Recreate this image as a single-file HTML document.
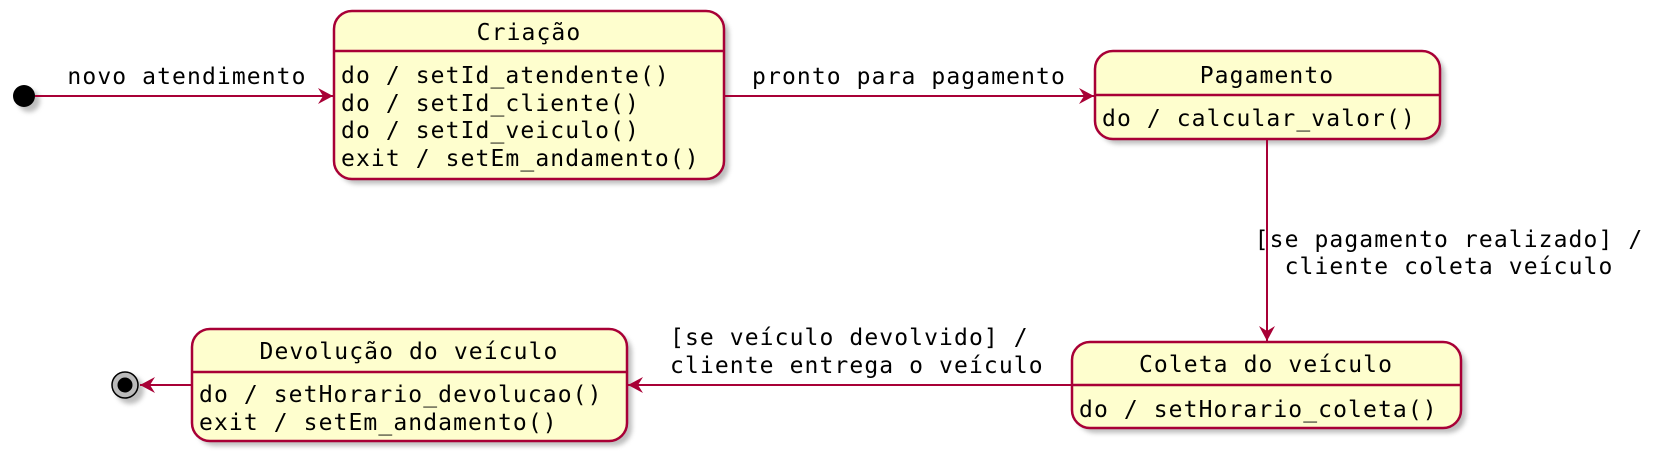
<!DOCTYPE html>
<html><head><meta charset="utf-8"><style>
html,body{margin:0;padding:0;background:#fff;}
svg text{font-family:"DejaVu Sans Mono","Liberation Mono",monospace;font-size:23px;fill:#000;letter-spacing:1.1px;}
</style></head><body>
<svg width="1675" height="469" viewBox="0 0 1675 469" xmlns="http://www.w3.org/2000/svg">
<defs>
<filter id="sh" x="-10%" y="-10%" width="130%" height="140%"><feGaussianBlur stdDeviation="2.5"/></filter>
<marker id="ar" markerWidth="18" markerHeight="16" refX="15" refY="8" orient="auto" markerUnits="userSpaceOnUse">
<path d="M0,0 L15,8 L0,16 L5,8 Z" fill="#A80036"/></marker>
</defs>
<g fill="#888" opacity="0.55" filter="url(#sh)">
<circle cx="29" cy="101" r="11"/>
<rect x="339" y="16" width="390" height="168" rx="18"/>
<rect x="1100" y="56" width="345" height="88" rx="18"/>
<rect x="1077" y="347" width="389" height="86" rx="18"/>
<rect x="197" y="334" width="435" height="112" rx="18"/>
<circle cx="130" cy="390" r="14"/>
</g>
<circle cx="24" cy="96" r="11" fill="#000"/>
<g fill="#FEFECE" stroke="#A80036" stroke-width="2.5">
<rect x="334" y="11" width="390" height="168" rx="18"/>
<rect x="1095" y="51" width="345" height="88" rx="18"/>
<rect x="1072" y="342" width="389" height="86" rx="18"/>
<rect x="192" y="329" width="435" height="112" rx="18"/>
</g>
<g stroke="#A80036" stroke-width="2" fill="none">
<line x1="334" y1="51" x2="724" y2="51" stroke-width="2.5"/>
<line x1="1095" y1="95" x2="1440" y2="95" stroke-width="2.5"/>
<line x1="1072" y1="385" x2="1461" y2="385" stroke-width="2.5"/>
<line x1="192" y1="372" x2="627" y2="372" stroke-width="2.5"/>
<line x1="35" y1="96" x2="333" y2="96" marker-end="url(#ar)"/>
<line x1="724" y1="96" x2="1094" y2="96" marker-end="url(#ar)"/>
<line x1="1267" y1="139" x2="1267" y2="341" marker-end="url(#ar)"/>
<line x1="1072" y1="385" x2="628" y2="385" marker-end="url(#ar)"/>
<line x1="192" y1="385" x2="140" y2="385" marker-end="url(#ar)"/>
</g>
<circle cx="125" cy="385" r="13" fill="#bbb" stroke="#000" stroke-width="1.5"/>
<circle cx="125" cy="385" r="7.5" fill="#000"/>
<g text-anchor="middle">
<text x="529" y="40">Criação</text>
<text x="1267" y="83">Pagamento</text>
<text x="1266" y="372">Coleta do veículo</text>
<text x="409" y="359">Devolução do veículo</text>
<text x="187" y="84">novo atendimento</text>
<text x="909" y="84">pronto para pagamento</text>
<text x="1449" y="247">[se pagamento realizado] /</text>
<text x="1449" y="274">cliente coleta veículo</text>
</g>
<text x="341" y="83">do / setId_atendente()</text>
<text x="341" y="111">do / setId_cliente()</text>
<text x="341" y="138">do / setId_veiculo()</text>
<text x="341" y="166">exit / setEm_andamento()</text>
<text x="1102" y="126">do / calcular_valor()</text>
<text x="1079" y="417">do / setHorario_coleta()</text>
<text x="199" y="402">do / setHorario_devolucao()</text>
<text x="199" y="430">exit / setEm_andamento()</text>
<text x="670" y="345">[se veículo devolvido] /</text>
<text x="670" y="373">cliente entrega o veículo</text>
</svg>
</body></html>
